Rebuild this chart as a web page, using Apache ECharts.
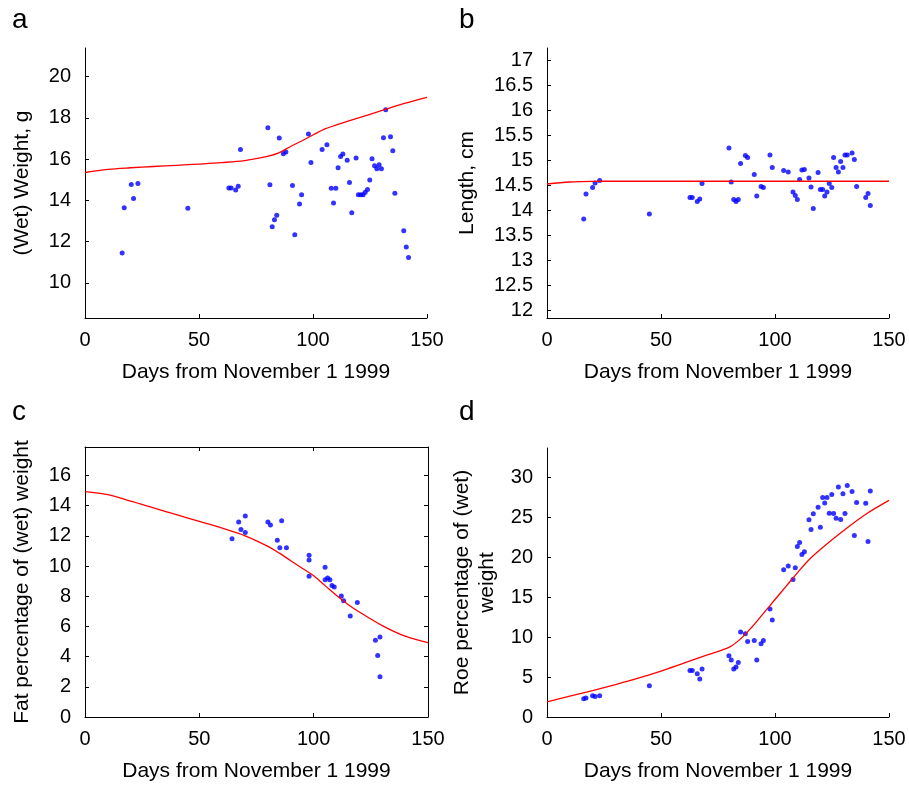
<!DOCTYPE html>
<html>
<head>
<meta charset="utf-8">
<script src="https://cdn.jsdelivr.net/npm/echarts@6/dist/echarts.min.js"></script>
<style>
  html, body { margin: 0; padding: 0; background: #fff; }
  #myChart { width: 909px; height: 789px; }
</style>
</head>
<body>
<div id="myChart"></div>
<script>
// days of sampling (panels a, b, d)
var sampleDays = [16.3, 17.2, 20.3, 21.3, 23.2, 45.1, 63.1, 64.1, 66.1, 67.2, 68.2, 80.2, 81.1, 82.1, 83.1, 84.1, 85.2, 87.0, 88.1,
    91.0, 92.0, 94.1, 95.0, 98.0, 99.1, 104.0, 106.1, 108.0, 109.0, 110.0, 111.0, 112.1, 113.1, 115.0, 116.0, 117.0, 118.9,
    119.9, 121.0, 122.0, 122.9, 123.9, 124.9, 125.9, 127.0, 128.0, 129.0, 130.0, 130.9, 131.9, 134.0, 135.0, 135.9, 139.8, 140.9, 141.9];
var weightVals = [11.44, 13.64, 14.77, 14.09, 14.81, 13.62, 14.6, 14.6, 14.5, 14.68, 16.47, 17.52, 14.76, 12.72, 13.06, 13.28, 17.02, 16.26, 16.34,
    14.72, 12.33, 13.82, 14.27, 17.22, 15.84, 16.47, 16.7, 14.58, 13.87, 14.58, 15.58, 16.13, 16.25, 15.94, 14.87, 13.4, 16.05,
    14.27, 14.27, 14.27, 14.39, 14.53, 14.98, 16.02, 15.68, 15.53, 15.73, 15.53, 17.04, 18.4, 17.09, 16.41, 14.34, 12.52, 11.73, 11.23];

var lengthDays = [16.1, 17.1, 20.0, 21.1, 23.1, 44.9, 62.7, 63.7, 65.9, 67.0, 68.0, 79.8, 80.8, 81.9, 82.9, 83.9, 84.9, 87.0, 88.0,
    90.9, 92.0, 93.9, 94.9, 97.8, 98.8, 103.8, 105.8, 107.9, 108.9, 109.8, 110.8, 111.8, 112.9, 114.9, 115.8, 116.8, 118.9,
    119.9, 120.9, 121.8, 122.8, 123.8, 124.9, 125.7, 126.8, 127.8, 128.8, 129.8, 130.7, 131.7, 133.8, 134.8, 135.8, 139.8, 140.8, 141.8];
var lengthVals = [13.82, 14.32, 14.45, 14.54, 14.59, 13.92, 14.25, 14.25, 14.17, 14.22, 14.53, 15.24, 14.56, 14.21, 14.17, 14.21, 14.93, 15.09, 15.05,
    14.71, 14.28, 14.47, 14.45, 15.1, 14.85, 14.79, 14.76, 14.36, 14.29, 14.21, 14.61, 14.8, 14.81, 14.64, 14.46, 14.03, 14.75,
    14.41, 14.41, 14.28, 14.36, 14.53, 14.45, 15.05, 14.85, 14.76, 14.97, 14.85, 15.1, 15.1, 15.14, 15.01, 14.47, 14.25, 14.33, 14.09];

var fatDays = [64.3, 67.2, 68.2, 70.1, 70.1, 80.0, 81.1, 84.1, 85.2, 86.0, 88.1, 98.0, 98.0, 98.0, 105.0, 105.0, 106.1, 107.1,
    108.0, 109.0, 112.1, 113.1, 116.0, 119.1, 127.0, 129.0, 128.0, 129.0];
var fatVals = [11.81, 12.91, 12.41, 13.31, 12.21, 12.91, 12.72, 11.7, 11.21, 13.0, 11.21, 10.71, 10.4, 9.32, 9.91, 9.09, 9.21, 9.09,
    8.7, 8.61, 8.01, 7.7, 6.69, 7.59, 5.08, 5.3, 4.08, 2.67];

var roeVals = [2.29, 2.38, 2.67, 2.58, 2.67, 3.92, 5.83, 5.83, 5.42, 4.75, 6.0, 7.67, 7.13, 6.0, 6.25, 6.83, 10.63, 10.42, 9.46,
    9.58, 7.13, 9.17, 9.58, 13.5, 12.13, 18.42, 18.88, 17.21, 18.67, 21.33, 21.83, 20.33, 20.67, 24.67, 23.46, 25.42, 26.25,
    23.75, 27.46, 26.79, 27.46, 25.5, 27.83, 25.46, 24.88, 28.79, 24.71, 27.92, 25.46, 28.96, 28.21, 22.71, 26.83, 26.75, 21.96, 28.29];

// fitted curves
var fitDays = [0, 10, 20, 30, 40, 50, 60, 70, 80, 85, 90, 95, 100, 105, 110, 115, 120, 130, 140, 150];
var weightFit = [15.35, 15.5, 15.58, 15.64, 15.7, 15.76, 15.83, 15.93, 16.13, 16.3, 16.6, 16.88, 17.17, 17.45, 17.65, 17.83, 18.0, 18.35, 18.7, 19.0];
var lengthFit = [14.52, 14.56, 14.573, 14.575, 14.575, 14.575, 14.575, 14.575, 14.575, 14.575, 14.575, 14.575, 14.575, 14.575, 14.575, 14.575, 14.575, 14.575, 14.575, 14.575];
var fatFit = [14.93, 14.72, 14.3, 13.85, 13.4, 12.95, 12.5, 12.0, 11.3, 10.85, 10.35, 9.85, 9.35, 8.7, 8.05, 7.45, 6.95, 6.05, 5.35, 4.92];
var roeFit = [1.88, 2.6, 3.3, 4.05, 4.85, 5.75, 6.75, 7.75, 8.75, 9.8, 11.3, 13.0, 14.7, 16.4, 18.1, 19.7, 21.0, 23.3, 25.4, 27.1];

// tick labels
var dayTicks = [0, 50, 100, 150];
var weightTicks = [10, 12, 14, 16, 18, 20];
var lengthTicks = [12, 12.5, 13, 13.5, 14, 14.5, 15, 15.5, 16, 16.5, 17];
var fatTicks = [0, 2, 4, 6, 8, 10, 12, 14, 16];
var roeTicks = [0, 5, 10, 15, 20, 25, 30];

var font = 'Liberation Sans, Arial, sans-serif';

function pairs(xs, ys) {
    return xs.map(function (x, i) { return [x, ys[i]]; });
}

function xAxisOf(idx, pos, showLabels) {
    return {
        type: 'value', gridIndex: idx, position: pos,
        min: 0, max: 150,
        name: showLabels ? 'Days from November 1 1999' : '',
        nameLocation: 'middle', nameGap: 44,
        nameTextStyle: { fontFamily: font, fontSize: 21, color: '#000' },
        axisLine: { show: true, onZero: false, lineStyle: { color: '#000', width: 1 } },
        axisTick: { show: true, inside: true, length: 4, customValues: dayTicks, lineStyle: { color: '#000' } },
        axisLabel: { show: showLabels, customValues: dayTicks, fontFamily: font, fontSize: 20, color: '#000', margin: 12 },
        splitLine: { show: false }
    };
}

function yAxisOf(idx, pos, min, max, ticks, name, gap, showLabels) {
    return {
        type: 'value', gridIndex: idx, position: pos,
        min: min, max: max,
        name: name, nameLocation: 'middle', nameGap: gap, nameRotate: 90,
        nameTextStyle: { fontFamily: font, fontSize: 21, color: '#000', lineHeight: 25 },
        axisLine: { show: true, onZero: false, lineStyle: { color: '#000', width: 1 } },
        axisTick: { show: true, inside: true, length: 4, customValues: ticks, lineStyle: { color: '#000' } },
        axisLabel: { show: showLabels, customValues: ticks, fontFamily: font, fontSize: 20, color: '#000', margin: 14 },
        splitLine: { show: false }
    };
}

function fitSeries(xi, yi, vals) {
    return {
        type: 'line', xAxisIndex: xi, yAxisIndex: yi,
        data: pairs(fitDays, vals), smooth: 0.35, showSymbol: false,
        lineStyle: { color: '#ff0000', width: 1.3 }, silent: true
    };
}

function dotSeries(xi, yi, xs, ys) {
    return {
        type: 'scatter', xAxisIndex: xi, yAxisIndex: yi,
        data: pairs(xs, ys), symbolSize: 5,
        itemStyle: { color: '#0000ff' }, silent: true
    };
}

var myChart = echarts.init(document.getElementById('myChart'));

var option = {
    backgroundColor: '#fff',
    animation: false,
    grid: [
        { left: 85, top: 48, width: 342, height: 270 },
        { left: 547, top: 48, width: 342, height: 270 },
        { left: 85, top: 447, width: 343, height: 270 },
        { left: 547, top: 448, width: 342, height: 269 }
    ],
    xAxis: [
        xAxisOf(0, 'bottom', true),
        xAxisOf(1, 'bottom', true),
        xAxisOf(2, 'bottom', true),
        xAxisOf(3, 'bottom', true),
        xAxisOf(2, 'top', false)
    ],
    yAxis: [
        yAxisOf(0, 'left', 8.29, 21.39, weightTicks, '(Wet) Weight, g', 50, true),
        yAxisOf(1, 'left', 11.84, 17.24, lengthTicks, 'Length, cm', 67, true),
        yAxisOf(2, 'left', 0, 17.88, fatTicks, 'Fat percentage of (wet) weight', 50, true),
        yAxisOf(3, 'left', 0, 33.66, roeTicks, 'Roe percentage of (wet)\nweight', 47, true),
        yAxisOf(2, 'right', 0, 17.88, fatTicks, '', 0, false)
    ],
    graphic: [
        { type: 'text', left: 12, top: 6, style: { text: 'a', font: '28px ' + font, fill: '#000' } },
        { type: 'text', left: 459, top: 6, style: { text: 'b', font: '28px ' + font, fill: '#000' } },
        { type: 'text', left: 12, top: 398, style: { text: 'c', font: '28px ' + font, fill: '#000' } },
        { type: 'text', left: 459, top: 398, style: { text: 'd', font: '28px ' + font, fill: '#000' } }
    ],
    series: [
        fitSeries(0, 0, weightFit),
        dotSeries(0, 0, sampleDays, weightVals),
        fitSeries(1, 1, lengthFit),
        dotSeries(1, 1, lengthDays, lengthVals),
        fitSeries(2, 2, fatFit),
        dotSeries(2, 2, fatDays, fatVals),
        fitSeries(3, 3, roeFit),
        dotSeries(3, 3, lengthDays, roeVals)
    ]
};
myChart.setOption(option);
</script>
</body>
</html>
